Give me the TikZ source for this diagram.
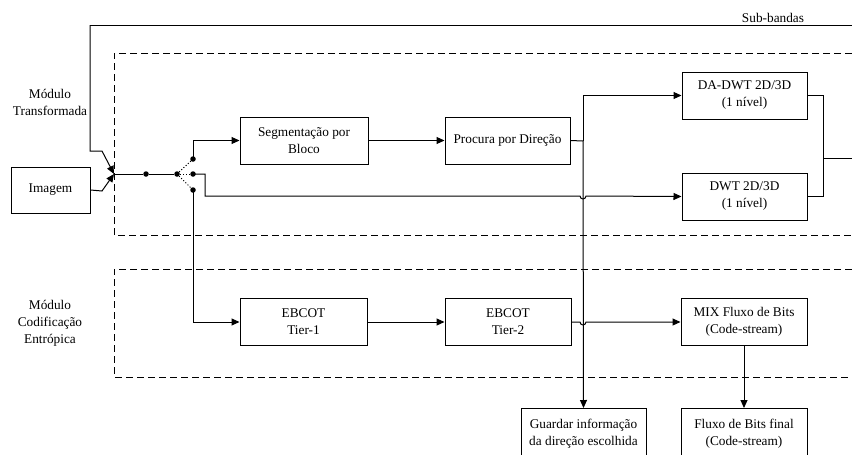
\documentclass[tikz,border=0pt]{standalone}
\usepackage{fontspec}
\setmainfont{Liberation Serif}
\usetikzlibrary{arrows.meta}
\begin{document}
\begin{tikzpicture}[x=1pt,y=-1pt,
  font=\rmfamily\fontsize{13.3}{17}\selectfont,
  wire/.style={line width=1pt},
  flow/.style={wire,-{Triangle[length=8pt,width=7pt]}},
  block/.style={draw,line width=1pt,minimum width=126pt,minimum height=47pt,
    align=center,inner sep=0pt},
  region/.style={line width=0.9pt,dash pattern=on 7pt off 4pt},
  dot/.style={circle,fill,inner sep=0pt,minimum size=5.5pt},
  label/.style={align=center,inner sep=0pt}]
\useasboundingbox (0,0) rectangle (852,455);
\clip (0,0) rectangle (852,455);

% dashed module frames
\draw[region] (852,53) -- (114,53) -- (114,235) -- (852,235);
\draw[region] (852,269) -- (114,269) -- (114,377) -- (852,377);

\node[label] (lblT) at (50,102) {Módulo\\Transformada};
\node[label] (lblC) at (50,323) {Módulo\\Codificação\\Entrópica};
\node[label,anchor=south] (lblS) at (773,23) {Sub-bandas};

% blocks
\node[block,minimum width=79pt,minimum height=46pt] (img) at (50.5,190) {Imagem};
\node[block,minimum width=128pt] (seg) at (304,140.5) {Segmentação por\\Bloco};
\node[block,minimum width=125pt] (dir) at (507.5,140.5) {Procura por Direção};
\node[block,minimum width=125pt] (dadwt) at (744.5,95.5) {DA-DWT 2D/3D\\(1 nível)};
\node[block,minimum width=125pt] (dwt) at (744.5,196.5) {DWT 2D/3D\\(1 nível)};
\node[block,minimum width=127pt] (t1) at (303.5,322) {EBCOT\\Tier-1};
\node[block,minimum width=126pt] (t2) at (508,322) {EBCOT\\Tier-2};
\node[block,minimum width=126pt] (mix) at (744,322) {MIX Fluxo de Bits\\(Code-stream)};
\node[block,minimum width=125pt,minimum height=50pt,anchor=north] (save) at (583.5,408) {Guardar informação\\da direção escolhida};
\node[block,minimum width=126pt,minimum height=50pt,anchor=north] (final) at (744,408) {Fluxo de Bits final\\(Code-stream)};

% junction and switch points
\coordinate (in) at (114,174);
\node[dot] (d1) at (146,174) {};
\node[dot] (sw) at (177,174) {};
\node[dot] (swA) at (193,159) {};
\node[dot] (swB) at (193,174) {};
\node[dot] (swC) at (193,190) {};
\coordinate (fb) at (90,25);
\coordinate (tap) at (583,141);
\coordinate (mrg) at (823,158);
\coordinate (outR) at (852,158);
\coordinate (topR) at (852,25);

% inputs to the junction
\draw[flow] (fb) -- (90,151) -- (102,151) -- (in);
\draw[flow] (img.east) -- (102,191) -- (in);
\draw[wire] (fb) -- (topR);
\draw[wire] (in) -- (d1) -- (sw);
\draw[wire,dotted] (sw.center) -- (swA.center);
\draw[wire,dotted] (sw.center) -- (swB.center);
\draw[wire,dotted] (sw.center) -- (swC.center);

% transform branch
\draw[flow] (swA.center) |- (seg.west);
\draw[flow] (seg.east) -- (dir.west);
\draw[wire] (dir.east) -- (tap);
\draw[flow] (tap) |- (dadwt.west);
\draw[flow] (tap) -- (save.north);
\draw[flow] (swB.center) -- (205,174) -- (205,196) -- (580,196)
  arc[start angle=180,end angle=0,radius=3] -- (dwt.west);
\draw[wire] (dadwt.east) -- (823,95.5) -- (823,196.5) -- (dwt.east);
\draw[wire] (mrg) -- (outR);

% coding branch
\draw[flow] (swC.center) |- (t1.west);
\draw[flow] (t1.east) -- (t2.west);
\draw[flow] (t2.east) -- (580,322)
  arc[start angle=180,end angle=0,radius=3] -- (mix.west);
\draw[flow] (mix.south) -- (final.north);
\end{tikzpicture}
\end{document}
